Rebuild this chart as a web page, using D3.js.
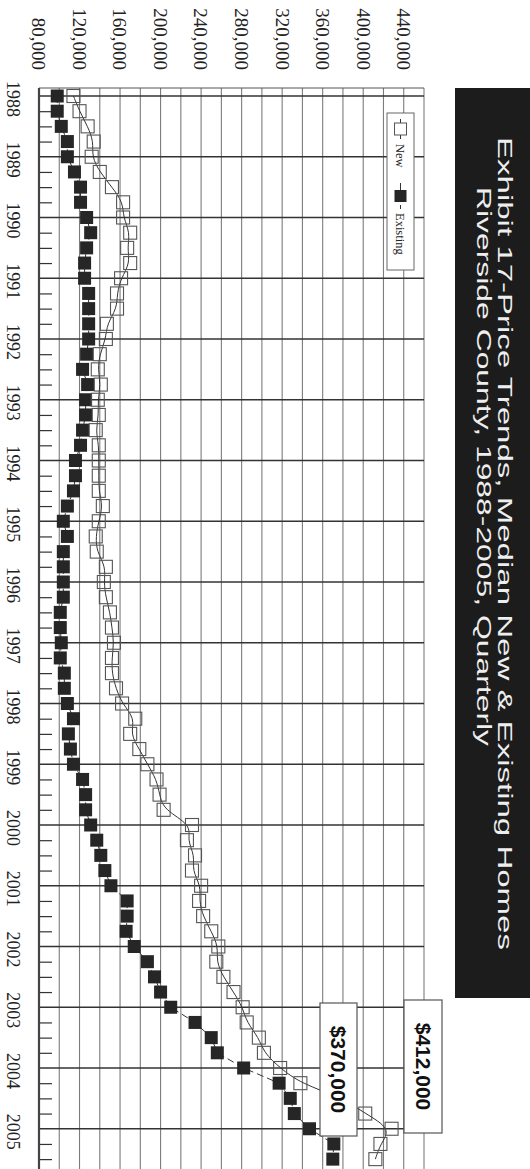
<!DOCTYPE html>
<html>
<head>
<meta charset="utf-8">
<script src="https://cdn.jsdelivr.net/npm/d3@7"></script>
<style>
  html, body { margin: 0; padding: 0; background: #fff; }
  svg { display: block; }
</style>
</head>
<body>
<svg id="chart" width="530" height="1169"></svg>
<script>
// Median home prices, Riverside County, quarterly 1988 Q1 – 2005 Q3
const years = [1988, 1989, 1990, 1991, 1992, 1993, 1994, 1995, 1996,
               1997, 1998, 1999, 2000, 2001, 2002, 2003, 2004, 2005];

const newPrices = [
  114000, 120000, 128000, 134000, 132000, 140000, 152000, 163000,
  163000, 170000, 167000, 170000, 161000, 157000, 157000, 147000,
  146000, 140000, 138000, 141000, 138000, 139000, 136000, 139000,
  139000, 139000, 139000, 143000, 139000, 136000, 137000, 146000,
  144000, 146000, 150000, 152000, 154000, 152000, 152000, 156000,
  162000, 175000, 170000, 179000, 187000, 196000, 199000, 203000,
  231000, 226000, 234000, 231000, 240000, 238000, 242000, 250000,
  257000, 255000, 262000, 272000, 281000, 285000, 297000, 302000,
  318000, 338000, 380000, 402000, 428000, 417000, 412000
];

const existingPrices = [
  98000, 98000, 102000, 108000, 108000, 115000, 121000, 121000,
  127000, 131000, 127000, 125000, 125000, 129000, 129000, 129000,
  129000, 127000, 123000, 128000, 126000, 126000, 123000, 121000,
  116000, 116000, 114000, 108000, 104000, 108000, 104000, 104000,
  104000, 104000, 101000, 101000, 102000, 101000, 105000, 105000,
  108000, 114000, 109000, 111000, 114000, 123000, 126000, 126000,
  131000, 137000, 141000, 145000, 151000, 167000, 167000, 166000,
  174000, 187000, 194000, 200000, 210000, 234000, 250000, 256000,
  282000, 317000, 328000, 332000, 347000, 371000, 370000
];

const valueTicks = [80000, 120000, 160000, 200000, 240000, 280000,
                    320000, 360000, 400000, 440000];

const titleLines = [
  "Exhibit 17-Price Trends, Median New & Existing Homes",
  "Riverside County, 1988-2005, Quarterly"
];

// one period per quarter, starting at 1988 Q1
const periods = newPrices.map((d, i) => years[0] + i / 4);

const svg = d3.select("#chart");

// The chart is laid out landscape (1169 wide, 530 tall) and turned
// a quarter turn clockwise onto the portrait page.
const g = svg.append("g").attr("transform", "translate(530,0) rotate(90)");

const plot = { left: 88, right: 1190, top: 106, bottom: 491 };

const x = d3.scaleLinear().domain([1988, 2005]).range([96, 1128.75]);
const y = d3.scaleLinear().domain([80000, 460000]).range([plot.bottom, plot.top]);

// value gridlines every 20,000
const grid = g.append("g");
grid.selectAll("line.v")
  .data(d3.range(80000, 460001, 20000))
  .join("line")
  .attr("x1", plot.left).attr("x2", plot.right)
  .attr("y1", d => y(d)).attr("y2", d => y(d))
  .attr("stroke", "#7c7c7c").attr("stroke-width", 1.1);

// year lines
grid.selectAll("line.yr")
  .data(years)
  .join("line")
  .attr("x1", d => x(d)).attr("x2", d => x(d))
  .attr("y1", plot.top).attr("y2", plot.bottom)
  .attr("stroke", "#333").attr("stroke-width", 1.3);

// plot frame
g.append("line")
  .attr("x1", plot.left).attr("x2", plot.left)
  .attr("y1", plot.top).attr("y2", plot.bottom)
  .attr("stroke", "#555").attr("stroke-width", 1.2);

// category axis along the bottom of the plot, quarter ticks
const xAxis = d3.axisTop(x)
  .tickValues(periods.filter((d, i) => i % 4 !== 0))
  .tickSize(13)
  .tickFormat("");
const axG = g.append("g").attr("transform", `translate(0,${plot.bottom})`).call(xAxis);
axG.select(".domain").remove();
axG.selectAll(".tick line").attr("stroke", "#333").attr("stroke-width", 1.2);
g.append("line")
  .attr("x1", plot.left).attr("x2", plot.right)
  .attr("y1", plot.bottom).attr("y2", plot.bottom)
  .attr("stroke", "#444").attr("stroke-width", 2.2);

// year labels
g.append("g").selectAll("text")
  .data(years)
  .join("text")
  .attr("x", d => x(d) + 3)
  .attr("y", 523)
  .attr("text-anchor", "middle")
  .attr("font-family", "'Liberation Serif', 'Times New Roman', serif")
  .attr("font-size", 18)
  .attr("fill", "#222")
  .text(d => d);

// value labels
const fmt = d3.format(",");
g.append("g").selectAll("text")
  .data(valueTicks)
  .join("text")
  .attr("x", 70)
  .attr("y", d => y(d))
  .attr("dy", "0.35em")
  .attr("text-anchor", "end")
  .attr("font-family", "'Liberation Serif', 'Times New Roman', serif")
  .attr("font-size", 19)
  .attr("fill", "#222")
  .text(d => fmt(d));

// series lines
const newLine = d3.line()
  .x((d, i) => x(periods[i])).y(d => y(d))
  .curve(d3.curveBasis);
const existingLine = d3.line()
  .x((d, i) => x(periods[i])).y(d => y(d));

g.append("path")
  .datum(existingPrices)
  .attr("d", existingLine)
  .attr("fill", "none")
  .attr("stroke", "#333")
  .attr("stroke-width", 1)
  .attr("stroke-dasharray", "7,4");

g.append("path")
  .datum(newPrices)
  .attr("d", newLine)
  .attr("fill", "none")
  .attr("stroke", "#333")
  .attr("stroke-width", 1);

// markers
const sq = 13;
g.append("g").selectAll("rect")
  .data(existingPrices)
  .join("rect")
  .attr("x", (d, i) => x(periods[i]) - sq / 2)
  .attr("y", d => y(d) - sq / 2)
  .attr("width", sq).attr("height", sq)
  .attr("fill", "#262626");

g.append("g").selectAll("rect")
  .data(newPrices)
  .join("rect")
  .attr("x", (d, i) => x(periods[i]) - sq / 2)
  .attr("y", d => y(d) - sq / 2)
  .attr("width", sq).attr("height", sq)
  .attr("fill", "none")
  .attr("stroke", "#555")
  .attr("stroke-width", 1.1);

// legend
const lg = g.append("g").attr("transform", "translate(113,116)");
lg.append("rect").attr("width", 157).attr("height", 27)
  .attr("fill", "#fff").attr("stroke", "#666").attr("stroke-width", 1);
lg.append("line").attr("x1", 6).attr("x2", 26).attr("y1", 13.5).attr("y2", 13.5)
  .attr("stroke", "#333");
lg.append("rect").attr("x", 10).attr("y", 7.5).attr("width", 12).attr("height", 12)
  .attr("fill", "#fff").attr("stroke", "#555");
lg.append("text").attr("x", 31).attr("y", 13.5).attr("dy", "0.35em")
  .attr("font-family", "'Liberation Serif', serif").attr("font-size", 12.5)
  .attr("fill", "#222").text("New");
lg.append("line").attr("x1", 70).attr("x2", 96).attr("y1", 13.5).attr("y2", 13.5)
  .attr("stroke", "#333").attr("stroke-dasharray", "7,4");
lg.append("rect").attr("x", 77).attr("y", 7.5).attr("width", 12).attr("height", 12)
  .attr("fill", "#262626");
lg.append("text").attr("x", 100).attr("y", 13.5).attr("dy", "0.35em")
  .attr("font-family", "'Liberation Serif', serif").attr("font-size", 12.5)
  .attr("fill", "#222").text("Existing");

// latest-value call-outs
const money = d3.format("$,");
const callouts = [
  { value: newPrices[newPrices.length - 1], x0: 1000, x1: 1133, y0: 88, y1: 126 },
  { value: existingPrices[existingPrices.length - 1], x0: 1003, x1: 1136, y0: 173, y1: 210 }
];
const co = g.append("g").selectAll("g").data(callouts).join("g");
co.append("rect")
  .attr("x", d => d.x0).attr("y", d => d.y0)
  .attr("width", d => d.x1 - d.x0).attr("height", d => d.y1 - d.y0)
  .attr("fill", "#fff").attr("stroke", "#555").attr("stroke-width", 1.2);
co.append("text")
  .attr("x", d => (d.x0 + d.x1) / 2)
  .attr("y", d => (d.y0 + d.y1) / 2)
  .attr("dy", "0.35em")
  .attr("text-anchor", "middle")
  .attr("font-family", "'Liberation Sans', Arial, sans-serif")
  .attr("font-weight", "bold")
  .attr("font-size", 21)
  .attr("fill", "#111")
  .text(d => money(d.value));

// title band
g.append("rect")
  .attr("x", 88).attr("y", 0).attr("width", 910).attr("height", 75)
  .attr("fill", "#1c1c1c");
const titleSpans = [
  { text: titleLines[0], x0: 137, x1: 950, base: 32 },
  { text: titleLines[1], x0: 187, x1: 746, base: 53 }
];
g.append("g").selectAll("text")
  .data(titleSpans)
  .join("text")
  .attr("x", d => d.x0)
  .attr("y", d => d.base)
  .attr("textLength", d => d.x1 - d.x0)
  .attr("lengthAdjust", "spacingAndGlyphs")
  .attr("font-family", "'Liberation Sans', Arial, sans-serif")
  .attr("font-size", 21)
  .attr("fill", "#eeeeee")
  .text(d => d.text);
</script>
</body>
</html>
